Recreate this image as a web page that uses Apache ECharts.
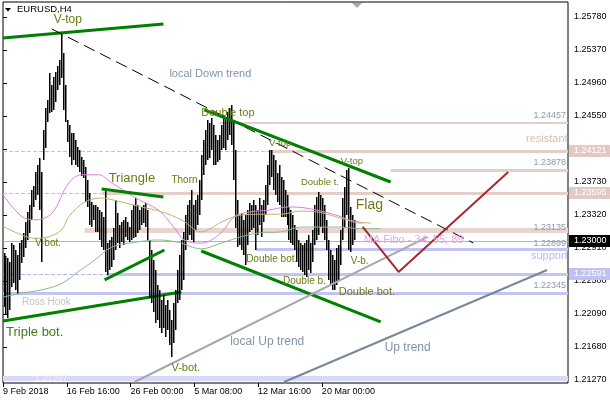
<!DOCTYPE html>
<html><head><meta charset="utf-8">
<script src="https://cdn.jsdelivr.net/npm/echarts@6/dist/echarts.min.js"></script>
<style>html,body{margin:0;padding:0;background:#fff}#c{width:610px;height:400px}</style>
</head><body><div id="c"></div>
<script>
// ---------- DATA ----------
const xTickValues = [0, 32, 64, 96, 128, 160];
const xTickLabels = ['9 Feb 2018', '16 Feb 16:00', '26 Feb 00:00', '5 Mar 08:00', '12 Mar 16:00', '20 Mar 00:00'];
const yTickValues = [1.2127, 1.2168, 1.2209, 1.2250, 1.2291, 1.2332, 1.2373, 1.2414, 1.2455, 1.2496, 1.2537, 1.2578];

const barHigh = [
1.2285,1.2281,1.2279,1.2274,1.2297,1.2295,1.2289,1.2282,1.2297,1.2301,
1.2310,1.2323,1.2336,1.2344,1.2363,1.2368,1.2385,1.2394,1.2403,1.2385,
1.2438,1.2465,1.2475,1.2508,1.2494,1.2503,1.2510,1.2517,1.2525,1.2558,
1.2533,1.2494,1.2450,1.2444,1.2434,1.2434,1.2425,1.2416,1.2413,1.2404,
1.2400,1.2392,1.2375,1.2359,1.2348,1.2344,1.2344,1.2342,1.2338,1.2336,
1.2330,1.2366,1.2297,1.2301,1.2305,1.2316,1.2351,1.2334,1.2320,1.2323,
1.2326,1.2330,1.2323,1.2317,1.2338,1.2344,1.2353,1.2344,1.2338,1.2342,
1.2344,1.2347,1.2338,1.2301,1.2289,1.2276,1.2264,1.2245,1.2239,1.2226,
1.2233,1.2220,1.2226,1.2214,1.2202,1.2223,1.2239,1.2264,1.2282,1.2301,
1.2311,1.2332,1.2344,1.2351,1.2363,1.2344,1.2351,1.2357,1.2375,1.2407,
1.2425,1.2438,1.2450,1.2446,1.2453,1.2444,1.2431,1.2425,1.2431,1.2444,
1.2456,1.2453,1.2460,1.2465,1.2469,1.2450,1.2413,1.2351,1.2332,1.2334,
1.2326,1.2332,1.2338,1.2347,1.2344,1.2351,1.2344,1.2338,1.2353,1.2344,
1.2351,1.2369,1.2394,1.2413,1.2413,1.2407,1.2400,1.2384,1.2394,1.2379,
1.2375,1.2363,1.2357,1.2342,1.2338,1.2332,1.2320,1.2313,1.2301,1.2297,
1.2295,1.2297,1.2301,1.2307,1.2297,1.2313,1.2344,1.2354,1.2361,1.2357,
1.2353,1.2344,1.2326,1.2301,1.2289,1.2282,1.2276,1.2291,1.2295,1.2313,
1.2353,1.2367,1.2388,1.2390,1.2342,1.2332,1.2326];

const barLow = [
1.2218,1.2208,1.2204,1.2214,1.2243,1.2248,1.2239,1.2234,1.2251,1.2272,
1.2280,1.2291,1.2301,1.2310,1.2326,1.2342,1.2351,1.2357,1.2338,1.2274,
1.2400,1.2415,1.2448,1.2459,1.2460,1.2462,1.2472,1.2487,1.2494,1.2502,
1.2462,1.2448,1.2423,1.2404,1.2394,1.2400,1.2394,1.2392,1.2385,1.2380,
1.2378,1.2348,1.2342,1.2320,1.2317,1.2326,1.2311,1.2311,1.2301,1.2292,
1.2289,1.2261,1.2257,1.2264,1.2267,1.2276,1.2289,1.2297,1.2291,1.2298,
1.2295,1.2305,1.2301,1.2298,1.2301,1.2303,1.2305,1.2310,1.2313,1.2320,
1.2322,1.2317,1.2301,1.2229,1.2223,1.2211,1.2198,1.2202,1.2192,1.2185,
1.2192,1.2180,1.2189,1.2170,1.2156,1.2173,1.2189,1.2223,1.2226,1.2239,
1.2251,1.2289,1.2301,1.2307,1.2301,1.2298,1.2313,1.2320,1.2332,1.2351,
1.2382,1.2394,1.2400,1.2403,1.2413,1.2394,1.2394,1.2398,1.2400,1.2413,
1.2415,1.2413,1.2425,1.2431,1.2419,1.2375,1.2316,1.2292,1.2295,1.2289,
1.2282,1.2270,1.2295,1.2311,1.2313,1.2316,1.2289,1.2307,1.2320,1.2305,
1.2323,1.2332,1.2344,1.2369,1.2379,1.2363,1.2357,1.2348,1.2344,1.2330,
1.2330,1.2330,1.2320,1.2301,1.2297,1.2295,1.2289,1.2274,1.2267,1.2264,
1.2261,1.2257,1.2255,1.2264,1.2260,1.2274,1.2295,1.2301,1.2307,1.2317,
1.2310,1.2301,1.2289,1.2251,1.2245,1.2239,1.2239,1.2245,1.2251,1.2270,
1.2301,1.2316,1.2332,1.2289,1.2286,1.2295,1.2301];

// moving averages (MA Fibo 34 / 55 / 89), sampled along the curves
const ma34 = [[0,1.2357],[9.5,1.2330],[16,1.2326],[24.5,1.2334],[33,1.2372],[39.5,1.2382],[48,1.2382],[54.5,1.2372],[66,1.2354],[78,1.2338],[86,1.2316],[91,1.2301],[99.5,1.2297],[109.5,1.2310],[116,1.2330],[124.5,1.2336],[133,1.2338],[143,1.2342],[151,1.2341],[161,1.2336],[169.5,1.2330],[176,1.2323],[181,1.2322]];
const ma55 = [[0,1.2318],[9.5,1.2307],[16,1.2303],[23,1.2305],[29.5,1.2314],[33,1.2330],[41,1.2348],[49.5,1.2353],[58,1.2349],[69.5,1.2342],[79.5,1.2336],[89.5,1.2326],[99.5,1.2311],[109.5,1.2323],[119.5,1.2332],[129.5,1.2333],[139.5,1.2333],[149.5,1.2337],[159.5,1.2335],[169.5,1.2328],[179.5,1.2323],[184.5,1.2322]];
const ma89 = [[0,1.2230],[9.5,1.2235],[19.5,1.2239],[29.5,1.2247],[38,1.2262],[46,1.2276],[54.5,1.2292],[66,1.2298],[78,1.2301],[88,1.2298],[99.5,1.2290],[109.5,1.2297],[119.5,1.2305],[129.5,1.2310],[139.5,1.2311],[149.5,1.2317],[159.5,1.2317],[169.5,1.2317],[179.5,1.2315],[189.5,1.2315]];

// trend lines [barIndex, price]
const trendVTop = [[0,1.25519],[80.5,1.25693]];
const trendLocalDown = [[24.5,1.25631],[236,1.22972]];
const trendTriTop = [[49.5,1.23643],[80.5,1.23544]];
const trendTriBottom = [[51,1.22513],[81,1.22885]];
const trendTripleBot = [[0,1.22003],[89.5,1.22363]];
const trendFlagTop = [[101,1.24625],[194.5,1.23730]];
const trendFlagBottom = [[99.5,1.22873],[189.5,1.21991]];
const trendLocalUp = [[66,1.21245],[213,1.23047]];
const trendUp = [[141,1.21245],[273,1.22637]];
const projection = [[180.5,1.23171],[198.5,1.22612],[253.5,1.23854]];

// horizontal levels
const levelPrice = [1.24457, 1.24121, 1.24121, 1.23878, 1.23595, 1.23595, 1.23135, 1.22899, 1.22591, 1.22591, 1.22345, 1.21297, 1.23000];
const levelFrom  = [108.5, 0, 134, 194.5, 0, 49.5, 41, 127, 0, 52, 0, 0, 0];
const levelTo    = [283.5, 134, 283.5, 283.5, 49.5, 283.5, 283.5, 283.5, 52, 283.5, 283.5, 283.5, 283.5];

// price tags on the axis
const tagPrice = [1.24121, 1.23595, 1.23000, 1.22591];

// text annotations
const annText = ['V-top','Triangle','Thorn','Double top','V-top','V-top','Double t.','Flag','V-bot.','Double bot.','Double b.','V-b.','Double bot.','Triple bot.','V-bot.','local Down trend','local Up trend','Up trend','Ross Hook','MA Fibo - 34; 55; 89','resistant','support','1.24457','1.23878','1.23135','1.22899','1.22345','1.21297'];
const annX = [25.5,53,84.5,99.5,133.5,169.5,149.5,177,16,122,140.5,174.5,168.5,1.5,84.5,83.5,114,191.5,9.5,181,283.3,283.3,282.5,282.5,282.5,282.5,282.5,16];
const annY = [1.25743,1.23780,1.23755,1.24587,1.24215,1.23991,1.23730,1.23444,1.22972,1.22773,1.22500,1.22749,1.22363,1.21866,1.21419,1.25072,1.21742,1.21668,1.22239,1.23009,1.24264,1.22811,1.24550,1.23966,1.23159,1.22960,1.22450,1.21283];

// ---------- STYLES ----------
const F = '"Liberation Sans", Arial, Helvetica, sans-serif';
const OL = '#6b7b14', GR = '#3f7a1c', SL = '#8292ab', PG = '#8c9aae';
const annStyle = [
 {s:12,c:OL},{s:13,c:OL},{s:10,c:OL},{s:11,c:OL},{s:9.5,c:OL},{s:9.5,c:OL},{s:9.5,c:OL},{s:14,c:OL},
 {s:10,c:OL},{s:10,c:OL},{s:10,c:OL},{s:10,c:OL},{s:11,c:OL},{s:13,c:GR},{s:11,c:OL},
 {s:11,c:SL},{s:12,c:SL},{s:12,c:SL},{s:10,c:'#c4c4c4'},{s:11,c:'#e8a6e8'},{s:11,c:'#dcbcb4',a:'right'},{s:11,c:'#b8b8f0',a:'right'},
 {s:9,c:PG,a:'right'},{s:9,c:PG,a:'right'},{s:9,c:PG,a:'right'},{s:9,c:PG,a:'right'},{s:9,c:PG,a:'right'},{s:9,c:'#eeeefc'}
];
const PINK = '#e5cdc8', PINKD = '#dfb6c6', LAV = '#c4c4f4', LAVD = '#b4b4f0';
const levelStyle = [
 {c:PINK,w:2},{c:PINKD,w:1,d:[4,2]},{c:PINK,w:3},{c:PINK,w:3},{c:PINKD,w:1,d:[4,2]},{c:PINK,w:3},{c:'#e8d4d0',w:5},
 {c:LAV,w:3},{c:LAVD,w:1,d:[4,2]},{c:LAV,w:3},{c:LAV,w:3},{c:'#d8d8f8',w:5},{c:'#b4b4b4',w:1}
];
const tagStyle = [{bg:'#e3c9c3'},{bg:'#e3c9c3'},{bg:'#000000'},{bg:'#c0c0f4'}];

const Y_MIN = 1.21232808, Y_MAX = 1.25966352;

const chart = echarts.init(document.getElementById('c'));

function tline(data, color, width, type, z) {
  return {type:'line', data:data, symbol:'none', showSymbol:false, silent:true, z:z||5, clip:false,
          lineStyle:{color:color, width:width, type:type||'solid'}};
}
function maLine(data, color) {
  return {type:'line', data:data, symbol:'none', showSymbol:false, silent:true, z:4, smooth:0.35,
          lineStyle:{color:color, width:1}};
}

const option = {
  animation:false,
  backgroundColor:'#ffffff',
  grid:{left:1, right:42, top:2, bottom:17, show:true, borderColor:'#000', borderWidth:1, backgroundColor:'transparent'},
  xAxis:{type:'value', min:0, max:283.5,
    axisLine:{show:false}, splitLine:{show:false},
    axisTick:{show:true, customValues:xTickValues, length:4, lineStyle:{color:'#000'}},
    axisLabel:{customValues:xTickValues, align:'left', fontSize:9, fontFamily:F, color:'#000', margin:4,
      formatter:function(v){ const k = xTickValues.indexOf(v); return k >= 0 ? xTickLabels[k] : ''; }}},
  yAxis:{type:'value', position:'right', min:Y_MIN, max:Y_MAX,
    axisLine:{show:false}, splitLine:{show:false},
    axisTick:{show:true, customValues:yTickValues, length:4, lineStyle:{color:'#000'}},
    axisLabel:{customValues:yTickValues, fontSize:9, fontFamily:F, color:'#000', margin:6,
      formatter:function(v){ return v.toFixed(5); }}},
  graphic:[
    {type:'polygon', shape:{points:[[5,8],[11,8],[8,11.5]]}, style:{fill:'#000'}, z:20},
    {type:'text', left:17, top:4, style:{text:'EURUSD,H4', font:'9.5px '+F, fill:'#000'}, z:20},
    {type:'polygon', shape:{points:[[352,3],[362,3],[357,8]]}, style:{fill:'#a8a8a8'}, z:20}
  ],
  series:[
    {type:'custom', z:1, silent:true, clip:false,
      data:levelPrice.map(function(p,i){ return [levelFrom[i], p, levelTo[i]]; }),
      encode:{x:[0,2], y:1},
      renderItem:function(params, api){
        const s = levelStyle[params.dataIndex];
        const a = api.coord([api.value(0), api.value(1)]);
        const b = api.coord([api.value(2), api.value(1)]);
        let y = Math.round(a[1]); if (s.w % 2 === 1) y += 0.5;
        return {type:'line', shape:{x1:a[0], y1:y, x2:b[0], y2:y},
                style:{stroke:s.c, lineWidth:s.w, lineDash:s.d || null}};
      }},
    {type:'custom', z:3, silent:true,
      data:barHigh.map(function(h,i){ return [i+0.5, h, barLow[i]]; }),
      encode:{x:0, y:[1,2]},
      renderItem:function(params, api){
        const t = api.coord([api.value(0), api.value(1)]);
        const b = api.coord([api.value(0), api.value(2)]);
        const x = Math.floor(t[0] + 0.01);
        const y0 = Math.round(t[1]), y1 = Math.round(b[1]);
        return {type:'rect', shape:{x:x, y:y0, width:1.5, height:Math.max(1, y1 - y0)}, style:{fill:'#000'}};
      }},
    maLine(ma34, '#e07ee0'),
    maLine(ma55, '#b8b870'),
    maLine(ma89, '#86be86'),
    tline(trendVTop, '#008000', 3),
    tline(trendLocalDown, '#000000', 1, [12,6]),
    tline(trendTriTop, '#008000', 3),
    tline(trendTriBottom, '#008000', 3),
    tline(trendTripleBot, '#008000', 3, 'solid', 2),
    tline(trendFlagTop, '#008000', 3),
    tline(trendFlagBottom, '#008000', 3),
    tline(trendLocalUp, '#a8a8a8', 2),
    tline(trendUp, '#778899', 2),
    tline(projection, '#a52a2a', 2),
    {type:'custom', z:8, silent:true, clip:false,
      data:annX.map(function(x,i){ return [x, annY[i]]; }),
      encode:{x:0, y:1},
      renderItem:function(params, api){
        const i = params.dataIndex, st = annStyle[i];
        const p = api.coord([api.value(0), api.value(1)]);
        return {type:'text', x:p[0], y:p[1],
                style:{text:annText[i], fill:st.c, font:st.s + 'px ' + F, align:st.a || 'left', verticalAlign:'middle'}};
      }},
    {type:'custom', z:10, silent:true, clip:false,
      data:tagPrice.map(function(p){ return [283.5, p]; }),
      encode:{x:0, y:1},
      renderItem:function(params, api){
        const i = params.dataIndex;
        const p = api.coord([api.value(0), api.value(1)]);
        const y = Math.round(p[1]);
        return {type:'group', children:[
          {type:'rect', shape:{x:p[0]+1, y:y-6, width:42, height:12}, style:{fill:tagStyle[i].bg}},
          {type:'text', x:p[0]+6, y:y, style:{text:tagPrice[i].toFixed(5), fill:'#fff', font:'9px ' + F, align:'left', verticalAlign:'middle'}}
        ]};
      }}
  ]
};
chart.setOption(option);
</script>
</body></html>
